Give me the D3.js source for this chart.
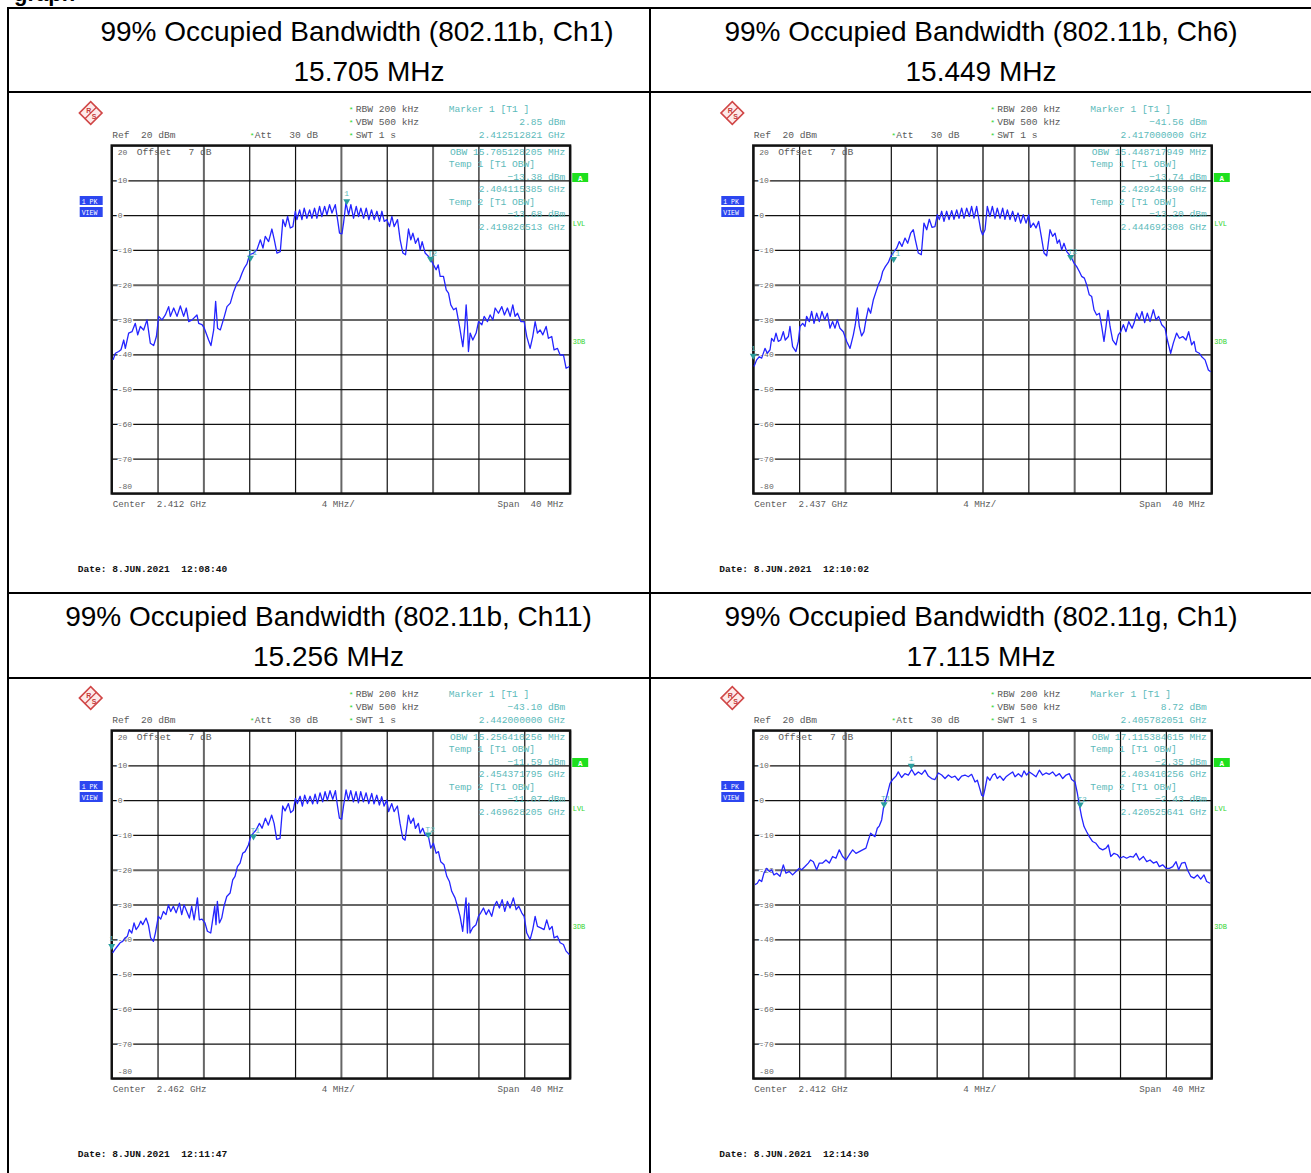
<!DOCTYPE html>
<html>
<head>
<meta charset="utf-8">
<script src="https://cdn.jsdelivr.net/npm/d3@7/dist/d3.min.js"></script>
<style>
  body { margin: 0; background: #fff; }
  svg text { white-space: pre; }
</style>
</head>
<body>
<svg id="chart" width="1311" height="1173"></svg>
<script>
// ---- data ----
const titles = [
  '99% Occupied Bandwidth (802.11b, Ch1)',
  '99% Occupied Bandwidth (802.11b, Ch6)',
  '99% Occupied Bandwidth (802.11b, Ch11)',
  '99% Occupied Bandwidth (802.11g, Ch1)'
];
const bandwidths = ['15.705 MHz', '15.449 MHz', '15.256 MHz', '17.115 MHz'];
const centersGHz = [2.412, 2.437, 2.462, 2.412];
const obwMHz = ['15.705128205', '15.448717949', '15.256410256', '17.115384615'];
// [GHz, dBm]
const marker1 = [[2.412512821, 2.85], [2.417, -41.56], [2.442, -43.10], [2.405782051, 8.72]];
const temp1 = [[2.404115385, -13.38], [2.429243590, -13.74], [2.454371795, -11.59], [2.403410256, -2.35]];
const temp2 = [[2.419820513, -13.68], [2.444692308, -13.20], [2.469628205, -11.07], [2.420525641, -2.43]];
const dates = ['8.JUN.2021  12:08:40', '8.JUN.2021  12:10:02', '8.JUN.2021  12:11:47', '8.JUN.2021  12:14:30'];
const xTicks = d3.range(-20, 20.1, 4);   // MHz offset, 4 MHz/div
const yTicks = d3.range(-80, 20.1, 10);  // dBm

// traces: [MHz offset from center, dBm]
const trace1 = [[-19.88,-41.6],[-19.68,-39.7],[-19.39,-39.2],[-19.19,-38.7],[-18.95,-35.9],[-18.81,-38.3],[-18.52,-33.9],[-18.23,-33.5],[-17.94,-31.1],[-17.73,-34.4],[-17.50,-32.0],[-17.21,-33.0],[-16.92,-30.1],[-16.63,-36.8],[-16.34,-37.5],[-16.10,-34.9],[-15.90,-29.1],[-15.61,-30.1],[-15.32,-28.7],[-15.03,-26.3],[-14.88,-29.1],[-14.59,-26.7],[-14.30,-29.1],[-14.01,-26.1],[-13.72,-29.1],[-13.49,-26.7],[-13.28,-30.6],[-12.99,-30.1],[-12.56,-28.7],[-12.41,-31.1],[-12.12,-31.5],[-11.92,-32.5],[-11.54,-35.9],[-11.34,-37.5],[-11.10,-33.0],[-10.93,-24.8],[-10.76,-32.5],[-10.52,-33.0],[-10.17,-29.1],[-9.94,-26.3],[-9.65,-25.3],[-9.36,-22.0],[-9.07,-19.6],[-8.84,-18.6],[-8.63,-16.7],[-8.43,-15.2],[-8.20,-14.0],[-7.97,-11.4],[-7.62,-10.9],[-7.33,-10.0],[-7.03,-7.1],[-6.80,-9.5],[-6.60,-6.1],[-6.31,-7.6],[-6.02,-4.0],[-5.81,-7.1],[-5.58,-10.9],[-5.29,-10.5],[-5.06,-1.3],[-4.85,-3.3],[-4.65,-0.4],[-4.42,-3.7],[-4.19,-3.3],[-3.98,1.1],[-3.84,-1.3],[-3.60,1.5],[-3.40,-1.3],[-3.20,2.0],[-2.97,-0.9],[-2.73,1.5],[-2.53,-0.9],[-2.30,2.0],[-2.09,-0.9],[-1.86,2.5],[-1.66,-0.4],[-1.42,2.5],[-1.22,0.1],[-0.99,3.0],[-0.78,0.6],[-0.49,3.0],[-0.29,-1.3],[-0.12,-5.2],[0.09,-5.4],[0.23,-2.3],[0.44,3.5],[0.67,0.1],[0.87,3.0],[1.10,-0.9],[1.34,2.5],[1.54,-0.4],[1.74,2.0],[1.98,-0.9],[2.21,2.0],[2.44,-1.3],[2.67,1.5],[2.91,-1.3],[3.14,1.1],[3.37,-1.8],[3.58,1.1],[3.78,-1.8],[4.01,-1.3],[4.24,-3.3],[4.45,-0.4],[4.65,-3.3],[4.94,-1.3],[5.17,-7.1],[5.41,-10.9],[5.64,-11.4],[5.90,-4.0],[6.10,-7.1],[6.28,-5.2],[6.51,-8.1],[6.74,-6.6],[6.92,-10.0],[7.09,-7.6],[7.35,-10.9],[7.65,-11.9],[7.85,-12.8],[8.08,-14.3],[8.31,-15.7],[8.49,-14.3],[8.66,-17.6],[8.95,-17.6],[9.19,-21.5],[9.39,-22.4],[9.59,-25.8],[9.83,-27.2],[10.06,-26.7],[10.35,-32.0],[10.64,-37.8],[10.81,-32.0],[10.93,-25.8],[11.05,-32.0],[11.13,-39.2],[11.28,-33.9],[11.51,-35.9],[11.80,-33.9],[12.01,-30.6],[12.30,-31.5],[12.50,-29.1],[12.79,-30.6],[13.02,-28.7],[13.26,-30.1],[13.46,-26.7],[13.75,-28.2],[14.04,-26.3],[14.27,-28.7],[14.53,-26.7],[14.77,-29.1],[15.00,-25.8],[15.20,-29.1],[15.41,-28.2],[15.70,-30.6],[15.99,-30.6],[16.22,-34.9],[16.51,-38.3],[16.74,-34.9],[16.95,-30.6],[17.15,-33.9],[17.38,-33.0],[17.62,-34.4],[17.91,-32.0],[18.11,-35.4],[18.40,-34.9],[18.60,-38.7],[18.90,-38.3],[19.13,-40.2],[19.42,-40.2],[19.65,-44.0],[19.94,-43.5]];

const trace2 = [[-19.94,-43.5],[-19.71,-41.6],[-19.48,-40.7],[-19.27,-41.1],[-18.98,-38.3],[-18.78,-39.7],[-18.54,-38.7],[-18.40,-35.4],[-18.20,-36.3],[-18.02,-33.9],[-17.82,-36.3],[-17.61,-35.9],[-17.38,-33.5],[-17.21,-35.9],[-16.94,-34.9],[-16.80,-32.0],[-16.57,-37.8],[-16.28,-39.2],[-16.07,-36.3],[-15.93,-32.0],[-15.69,-31.1],[-15.49,-32.0],[-15.35,-29.1],[-15.11,-30.6],[-14.91,-27.7],[-14.70,-31.1],[-14.47,-28.2],[-14.24,-30.6],[-14.01,-27.7],[-13.77,-30.1],[-13.54,-28.2],[-13.31,-32.5],[-13.08,-30.6],[-12.87,-32.5],[-12.67,-30.1],[-12.44,-32.5],[-12.15,-33.5],[-11.85,-36.3],[-11.56,-38.3],[-11.27,-34.4],[-11.10,-31.5],[-10.92,-26.7],[-10.75,-32.0],[-10.55,-34.7],[-10.34,-33.5],[-10.17,-30.1],[-9.96,-26.7],[-9.76,-28.2],[-9.53,-24.4],[-9.29,-22.0],[-9.09,-20.0],[-8.89,-18.6],[-8.71,-16.2],[-8.48,-14.8],[-8.22,-13.6],[-8.01,-11.9],[-7.72,-10.5],[-7.49,-9.5],[-7.26,-7.6],[-7.03,-9.0],[-6.76,-6.6],[-6.53,-8.1],[-6.27,-5.2],[-6.04,-4.2],[-5.86,-7.1],[-5.60,-10.9],[-5.34,-11.4],[-5.11,-2.3],[-4.87,-4.2],[-4.64,-1.2],[-4.41,-3.5],[-4.15,-3.3],[-3.94,0.1],[-3.77,-1.3],[-3.56,1.1],[-3.36,-1.8],[-3.13,1.1],[-2.92,-1.3],[-2.69,1.3],[-2.49,-1.2],[-2.25,1.5],[-2.05,-0.9],[-1.82,2.0],[-1.61,-0.9],[-1.38,2.0],[-1.15,-0.4],[-0.95,2.5],[-0.74,-0.9],[-0.51,2.5],[-0.36,-0.4],[-0.16,-4.2],[0.01,-5.7],[0.22,-4.2],[0.42,2.5],[0.65,-0.4],[0.86,2.5],[1.09,-0.9],[1.29,2.0],[1.53,-0.9],[1.76,2.0],[1.96,-1.2],[2.17,1.5],[2.40,-1.3],[2.63,1.1],[2.87,-1.8],[3.10,0.6],[3.33,-2.3],[3.56,0.1],[3.80,-2.3],[4.03,0.1],[4.20,-3.5],[4.44,-2.3],[4.67,-3.7],[4.90,-1.8],[5.13,-6.1],[5.37,-10.9],[5.60,-11.7],[5.89,-4.2],[6.12,-6.1],[6.33,-5.2],[6.53,-8.1],[6.71,-7.1],[6.91,-10.0],[7.11,-8.1],[7.35,-10.5],[7.58,-11.4],[7.78,-12.4],[7.99,-13.8],[8.22,-14.8],[8.45,-16.2],[8.65,-17.6],[8.89,-18.1],[9.09,-20.0],[9.32,-22.9],[9.53,-23.4],[9.73,-27.2],[9.96,-28.7],[10.20,-28.2],[10.40,-32.0],[10.60,-36.3],[10.78,-32.0],[10.95,-27.4],[11.13,-32.0],[11.36,-35.9],[11.65,-37.3],[11.85,-34.4],[12.06,-33.5],[12.29,-31.5],[12.52,-33.5],[12.76,-30.6],[13.05,-32.5],[13.22,-31.1],[13.45,-28.2],[13.69,-30.1],[13.92,-27.7],[14.15,-30.9],[14.38,-28.2],[14.62,-30.6],[14.91,-27.2],[15.14,-30.1],[15.37,-29.1],[15.64,-31.5],[15.93,-32.5],[16.13,-35.9],[16.42,-39.7],[16.65,-36.8],[16.94,-33.9],[17.18,-35.4],[17.47,-34.9],[17.76,-35.9],[17.99,-33.5],[18.25,-37.3],[18.46,-36.3],[18.63,-39.2],[18.92,-39.7],[19.13,-40.7],[19.42,-41.6],[19.71,-44.5],[19.91,-45.0]];

const trace3 = [[-19.92,-43.9],[-19.71,-42.9],[-19.50,-42.0],[-19.27,-41.0],[-19.04,-40.6],[-18.83,-39.6],[-18.63,-39.1],[-18.46,-37.2],[-18.25,-38.2],[-18.05,-35.3],[-17.87,-37.2],[-17.67,-36.3],[-17.47,-34.8],[-17.29,-35.8],[-17.00,-33.9],[-16.80,-35.8],[-16.60,-39.6],[-16.36,-40.6],[-16.19,-38.2],[-15.93,-33.4],[-15.72,-34.2],[-15.49,-32.0],[-15.26,-32.9],[-15.05,-30.1],[-14.85,-32.0],[-14.62,-30.5],[-14.38,-32.4],[-14.09,-29.6],[-13.89,-32.9],[-13.69,-30.1],[-13.45,-32.0],[-13.22,-33.9],[-13.02,-30.5],[-12.81,-34.4],[-12.52,-28.1],[-12.35,-34.4],[-12.12,-34.2],[-11.86,-35.3],[-11.65,-37.7],[-11.36,-38.2],[-11.19,-34.4],[-11.01,-30.5],[-10.90,-35.8],[-10.78,-29.1],[-10.60,-35.3],[-10.40,-33.9],[-10.20,-30.5],[-9.96,-27.7],[-9.67,-26.7],[-9.44,-22.9],[-9.24,-21.9],[-9.03,-19.1],[-8.80,-18.1],[-8.57,-15.3],[-8.36,-14.8],[-8.07,-12.9],[-7.87,-10.5],[-7.64,-9.5],[-7.40,-8.6],[-7.11,-6.7],[-6.88,-8.1],[-6.59,-5.2],[-6.33,-7.2],[-6.04,-4.3],[-5.83,-6.7],[-5.60,-11.3],[-5.31,-11.0],[-5.08,-1.7],[-4.87,-3.1],[-4.58,-1.0],[-4.38,-3.6],[-4.15,-2.9],[-3.97,0.5],[-3.80,-1.0],[-3.56,1.1],[-3.36,-1.7],[-3.16,1.4],[-2.92,-1.0],[-2.69,1.1],[-2.46,-1.1],[-2.25,1.7],[-2.05,-1.0],[-1.82,2.1],[-1.59,-0.5],[-1.38,2.4],[-1.18,0.0],[-0.95,2.7],[-0.71,0.2],[-0.48,2.7],[-0.31,-1.4],[-0.13,-5.2],[0.07,-5.5],[0.22,-1.9],[0.45,2.9],[0.65,0.0],[0.86,2.7],[1.09,-0.5],[1.32,2.4],[1.53,-0.8],[1.73,2.4],[1.96,-0.5],[2.20,2.1],[2.43,-1.0],[2.69,1.9],[2.89,-1.1],[3.13,1.4],[3.36,-1.4],[3.56,1.0],[3.77,-1.7],[4.00,0.0],[4.17,-3.3],[4.44,-1.0],[4.64,-3.3],[4.93,-1.7],[5.16,-6.7],[5.40,-11.0],[5.60,-11.5],[5.89,-4.3],[6.09,-6.7],[6.33,-5.2],[6.50,-8.1],[6.76,-6.7],[6.91,-9.5],[7.14,-8.1],[7.35,-10.0],[7.64,-10.5],[7.84,-13.8],[8.07,-12.4],[8.31,-15.3],[8.51,-14.8],[8.71,-17.7],[9.00,-18.6],[9.24,-21.9],[9.47,-23.4],[9.67,-26.2],[9.96,-28.1],[10.17,-30.5],[10.40,-33.4],[10.63,-37.7],[10.81,-31.5],[10.92,-28.1],[11.04,-38.2],[11.16,-29.6],[11.27,-38.2],[11.50,-36.7],[11.79,-35.8],[12.00,-33.4],[12.20,-32.4],[12.44,-31.0],[12.67,-32.9],[12.90,-31.5],[13.16,-33.4],[13.37,-30.5],[13.60,-29.1],[13.83,-31.0],[14.07,-28.6],[14.30,-32.0],[14.53,-29.1],[14.76,-31.0],[15.05,-28.1],[15.29,-31.5],[15.52,-30.5],[15.78,-32.4],[15.99,-33.4],[16.22,-38.2],[16.51,-40.1],[16.74,-37.2],[16.95,-33.4],[17.15,-36.3],[17.44,-36.7],[17.73,-37.2],[17.96,-34.4],[18.20,-37.2],[18.43,-36.3],[18.60,-39.6],[18.89,-39.1],[19.13,-41.0],[19.42,-41.5],[19.65,-43.4],[19.94,-44.4]];

const trace4 = [[-19.85,-24.3],[-19.65,-23.9],[-19.48,-22.9],[-19.27,-23.4],[-19.07,-21.0],[-18.84,-19.6],[-18.60,-20.5],[-18.40,-20.0],[-18.20,-21.5],[-17.96,-21.0],[-17.67,-21.9],[-17.38,-18.6],[-17.15,-21.0],[-16.86,-20.5],[-16.57,-21.5],[-16.28,-20.5],[-15.99,-19.6],[-15.78,-20.0],[-15.49,-19.1],[-15.20,-18.1],[-15.00,-17.2],[-14.76,-17.7],[-14.47,-20.0],[-14.24,-18.1],[-13.95,-18.1],[-13.66,-17.2],[-13.37,-18.1],[-13.08,-16.2],[-12.79,-16.7],[-12.50,-14.3],[-12.21,-16.2],[-11.91,-17.2],[-11.62,-15.7],[-11.33,-14.3],[-11.04,-15.3],[-10.75,-14.8],[-10.46,-14.3],[-10.17,-13.8],[-9.96,-11.5],[-9.76,-9.5],[-9.58,-10.0],[-9.38,-10.5],[-9.18,-8.1],[-9.00,-7.4],[-8.80,-5.7],[-8.60,-1.4],[-8.36,1.0],[-8.07,4.8],[-7.84,5.9],[-7.55,6.9],[-7.35,8.1],[-7.06,6.5],[-6.77,7.6],[-6.47,7.2],[-6.18,8.8],[-5.89,7.2],[-5.60,8.1],[-5.31,7.4],[-5.02,8.6],[-4.73,6.9],[-4.44,6.2],[-4.15,5.9],[-3.85,7.8],[-3.56,7.2],[-3.27,6.2],[-2.98,7.2],[-2.69,6.5],[-2.40,6.9],[-2.11,5.7],[-1.82,6.9],[-1.53,7.2],[-1.24,6.7],[-0.95,7.4],[-0.65,5.2],[-0.45,5.7],[-0.28,3.8],[-0.07,1.4],[0.07,1.1],[0.22,3.3],[0.42,6.7],[0.65,5.7],[0.89,7.2],[1.09,7.6],[1.29,6.2],[1.53,6.9],[1.82,5.7],[2.05,6.7],[2.34,7.4],[2.63,8.1],[2.84,6.7],[3.13,7.6],[3.42,6.7],[3.62,8.4],[3.85,7.2],[4.09,8.1],[4.38,7.4],[4.67,6.7],[4.96,8.6],[5.25,7.2],[5.54,7.8],[5.83,7.4],[6.12,8.1],[6.41,6.9],[6.71,7.6],[7.00,6.2],[7.29,7.2],[7.58,7.6],[7.78,5.9],[8.07,5.2],[8.28,1.9],[8.45,-1.4],[8.65,-4.8],[8.86,-7.6],[9.09,-9.1],[9.32,-10.5],[9.61,-11.9],[9.90,-12.4],[10.20,-13.8],[10.49,-14.3],[10.78,-13.8],[10.98,-12.9],[11.19,-16.2],[11.48,-15.3],[11.77,-15.7],[12.00,-16.7],[12.29,-16.2],[12.58,-16.7],[12.87,-16.2],[13.16,-16.4],[13.40,-15.3],[13.69,-17.2],[14.04,-16.2],[14.33,-17.7],[14.62,-17.2],[14.91,-18.1],[15.20,-17.7],[15.43,-19.1],[15.72,-18.6],[16.02,-19.6],[16.31,-19.6],[16.60,-19.1],[16.89,-17.7],[17.12,-20.0],[17.38,-18.1],[17.67,-17.9],[17.88,-20.0],[18.17,-21.9],[18.46,-22.4],[18.75,-21.5],[19.04,-22.7],[19.33,-21.5],[19.56,-23.4],[19.85,-23.9]];

const traces = [trace1, trace2, trace3, trace4];

// ---- layout ----
const svg = d3.select('#chart');
const W = 458.4, H = 348;
const origins = [[111.7, 145.5], [753.3, 145.5], [111.7, 730.5], [753.3, 730.5]];
const titleCenters = [[357, 369], [981, 981], [328.5, 328.5], [981, 981]];
const headerTops = [8, 593];
const mono = '"Liberation Mono", "DejaVu Sans Mono", monospace';
const grey = '#5a5a5a', teal = '#5cbaba', green = '#2fd42f';

// table frame
const frame = svg.append('g').attr('stroke', '#000').attr('stroke-width', 2);
[8, 92, 593, 678].forEach(y => frame.append('line').attr('x1', 8).attr('x2', 1311).attr('y1', y).attr('y2', y));
frame.append('line').attr('x1', 8).attr('x2', 8).attr('y1', 7).attr('y2', 1173);
frame.append('line').attr('x1', 650).attr('x2', 650).attr('y1', 7).attr('y2', 1173);

// cut-off heading above the table
svg.append('text').attr('x', 14).attr('y', 1).attr('font-family', '"Liberation Sans", Arial, sans-serif')
  .attr('font-weight', 'bold').attr('font-size', 22).text('graph');

// titles
titles.forEach((t, i) => {
  const top = headerTops[Math.floor(i / 2)];
  const [c1, c2] = titleCenters[i];
  const g = svg.append('g').attr('font-family', '"Liberation Sans", Arial, sans-serif')
    .attr('font-size', 28).attr('text-anchor', 'middle').attr('fill', '#000');
  g.append('text').attr('x', c1).attr('y', top + 33).text(t);
  g.append('text').attr('x', c2).attr('y', top + 73).text(bandwidths[i]);
});

const fmtGHz = d3.format('.9f'), fmtDb = d3.format('.2f');

function panel(i) {
  const [ox, oy] = origins[i];
  const center = centersGHz[i];
  const x = d3.scaleLinear().domain([-20, 20]).range([ox, ox + W]);
  const y = d3.scaleLinear().domain([-80, 20]).range([oy + H, oy]);
  const g = svg.append('g').attr('font-family', mono);

  const txt = (tx, ty, s, opt = {}) => g.append('text').attr('x', tx).attr('y', ty)
    .attr('font-size', opt.size || 9.6).attr('fill', opt.fill || grey)
    .attr('text-anchor', opt.anchor || 'start').attr('font-weight', opt.weight || 'normal').text(s);

  // R&S logo
  const logo = g.append('g').attr('transform', `translate(${ox - 21},${oy - 32.5})`);
  logo.append('rect').attr('x', -8).attr('y', -8).attr('width', 16).attr('height', 16)
    .attr('transform', 'rotate(45)').attr('fill', '#fdeaea').attr('stroke', '#d04545').attr('stroke-width', 1.6);
  logo.append('line').attr('x1', -6).attr('y1', 6).attr('x2', 6).attr('y2', -6).attr('stroke', '#d04545').attr('stroke-width', 1.2);
  logo.append('text').attr('x', -4.5).attr('y', -0.5).attr('font-size', 7).attr('font-weight', 'bold')
    .attr('fill', '#c43a3a').attr('font-family', 'Liberation Sans, Arial').text('R');
  logo.append('text').attr('x', 1).attr('y', 6).attr('font-size', 7).attr('font-weight', 'bold')
    .attr('fill', '#c43a3a').attr('font-family', 'Liberation Sans, Arial').text('S');

  // header info
  txt(ox + 0.5, oy - 7.5, 'Ref  20 dBm');
  txt(ox + 138, oy - 7.5, '*', { fill: green, size: 8 });
  txt(ox + 143, oy - 7.5, 'Att   30 dB');
  [['RBW 200 kHz', -33.5], ['VBW 500 kHz', -20.5], ['SWT 1 s', -7.5]].forEach(([s, dy]) => {
    txt(ox + 237, oy + dy, '*', { fill: green, size: 8 });
    txt(ox + 244, oy + dy, s);
  });
  txt(ox + 337, oy - 33.5, 'Marker 1 [T1 ]', { fill: teal });
  txt(ox + 453.5, oy - 20.5, fmtDb(marker1[i][1]) + ' dBm', { fill: teal, anchor: 'end' });
  txt(ox + 453.5, oy - 7.5, fmtGHz(marker1[i][0]) + ' GHz', { fill: teal, anchor: 'end' });

  // grid via axes
  const gx = g.append('g').attr('transform', `translate(0,${oy + H})`)
    .call(d3.axisBottom(x).tickValues(xTicks).tickSize(-H).tickFormat(''));
  gx.select('.domain').remove();
  gx.selectAll('.tick line')
    .attr('stroke', (d, k) => [2, 5, 7].includes(k) ? '#666' : '#111')
    .attr('stroke-width', (d, k) => [2, 5, 7].includes(k) ? 2 : 1.2);
  const gy = g.append('g').attr('transform', `translate(${ox},0)`)
    .call(d3.axisRight(y).tickValues(yTicks).tickSize(W).tickFormat(''));
  gy.select('.domain').remove();
  gy.selectAll('.tick line')
    .attr('stroke', d => (d === -20 || d === -30) ? '#666' : '#111')
    .attr('stroke-width', d => (d === -20 || d === -30) ? 2 : 1.2);
  g.append('rect').attr('x', ox).attr('y', oy).attr('width', W).attr('height', H)
    .attr('fill', 'none').attr('stroke', '#111').attr('stroke-width', 2.4);

  // y labels inside the grid
  yTicks.filter(v => v < 20 && v > -80).forEach(v => {
    g.append('text').attr('x', ox + 6).attr('y', y(v) + 3).attr('font-size', 8).attr('fill', '#666')
      .attr('stroke', '#fff').attr('stroke-width', 3).attr('paint-order', 'stroke').text(v);
  });
  txt(ox + 6, oy + 9.5, '20', { size: 8, fill: '#666' });
  txt(ox + 6, oy + H - 5, '-80', { size: 8, fill: '#666' });
  txt(ox + 25, oy + 9.5, 'Offset   7 dB');

  // marker readout inside the grid
  const lines = [
    ['OBW ' + obwMHz[i] + ' MHz', 'end'],
    ['Temp 1 [T1 OBW]', 'start'],
    [fmtDb(temp1[i][1]) + ' dBm', 'end'],
    [fmtGHz(temp1[i][0]) + ' GHz', 'end'],
    ['Temp 2 [T1 OBW]', 'start'],
    [fmtDb(temp2[i][1]) + ' dBm', 'end'],
    [fmtGHz(temp2[i][0]) + ' GHz', 'end']
  ];
  lines.forEach(([s, a], k) => {
    txt(a === 'end' ? ox + 453.5 : ox + 337, oy + 9 + k * 12.5, s, { fill: teal, anchor: a });
  });

  // side annotations
  g.append('rect').attr('x', ox + 460.5).attr('y', oy + 27.5).attr('width', 16).attr('height', 9).attr('fill', '#1ee01e');
  txt(ox + 468.5, oy + 35, 'A', { fill: '#fff', size: 7.5, anchor: 'middle', weight: 'bold' });
  txt(ox + 461, oy + 80, 'LVL', { fill: green, size: 7 });
  txt(ox + 461, oy + 198, '3DB', { fill: green, size: 7 });
  g.append('rect').attr('x', ox - 32).attr('y', oy + 50.5).attr('width', 23).attr('height', 9).attr('fill', '#2c46f0');
  g.append('rect').attr('x', ox - 32).attr('y', oy + 61.5).attr('width', 23).attr('height', 10).attr('fill', '#2c46f0');
  txt(ox - 30, oy + 58, '1 PK', { fill: '#fff', size: 6.5 });
  txt(ox - 30, oy + 69.5, 'VIEW', { fill: '#fff', size: 6.5 });

  // trace
  g.append('path').datum(traces[i])
    .attr('d', d3.line().x(d => x(d[0])).y(d => y(d[1])))
    .attr('fill', 'none').attr('stroke', '#2424ff').attr('stroke-width', 1.3).attr('stroke-linejoin', 'round');

  // markers
  const mk = [[marker1[i], '1'], [temp1[i], 'T1'], [temp2[i], 'T2']];
  mk.forEach(([m, lab]) => {
    const px = x((m[0] - center) * 1000), py = y(m[1]);
    g.append('path').attr('d', `M${px - 3.5},${py - 6}L${px + 3.5},${py - 6}L${px},${py}Z`).attr('fill', '#2a9e9e');
    if (lab === '1') txt(px, py - 9, lab, { fill: teal, size: 8, anchor: 'middle' });
    else txt(px - 3, py - 7, lab, { fill: teal, size: 8 });
  });

  // footer
  txt(ox + 1, oy + 361, 'Center  ' + center.toFixed(3) + ' GHz', { size: 9.2 });
  txt(ox + 210, oy + 361, '4 MHz/', { size: 9.2 });
  txt(ox + 452, oy + 361, 'Span  40 MHz', { size: 9.2, anchor: 'end' });
  txt(ox - 34, oy + 426.5, 'Date: ' + dates[i], { fill: '#111', size: 9.6, weight: 'bold' });
}

[0, 1, 2, 3].forEach(panel);
</script>
</body>
</html>
